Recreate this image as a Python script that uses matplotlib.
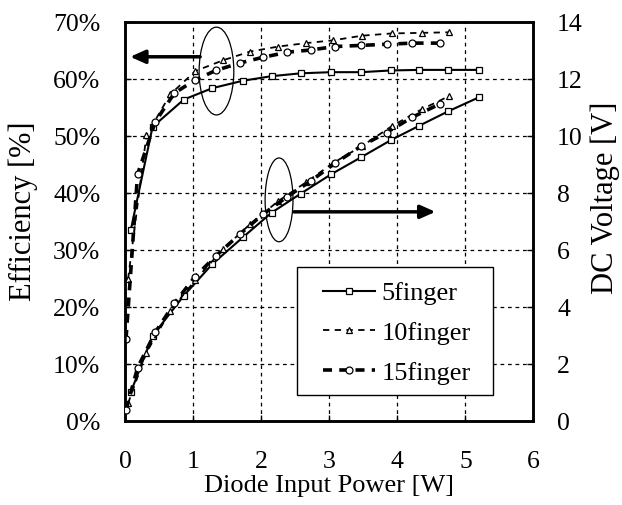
import matplotlib
matplotlib.use('Agg')
import matplotlib.pyplot as plt
from matplotlib.patches import Ellipse, Rectangle
from matplotlib.ticker import FuncFormatter

plt.rcParams['font.family'] = ['Liberation Serif', 'DejaVu Serif']

# Diode input power [W]
p5 = [0.08, 0.40, 0.86, 1.28, 1.73, 2.15, 2.58, 3.02, 3.47, 3.90, 4.32, 4.75, 5.20]
p10 = [0.04, 0.31, 0.66, 1.03, 1.44, 1.83, 2.25, 2.66, 3.06, 3.48, 3.92, 4.36, 4.76]
p15 = [0.01, 0.18, 0.44, 0.72, 1.02, 1.33, 1.68, 2.02, 2.38, 2.73, 3.08, 3.47, 3.84, 4.22, 4.62]

# Efficiency [%]
eff5 = [33.5, 51.6, 56.4, 58.4, 59.7, 60.5, 61.0, 61.2, 61.2, 61.5, 61.6, 61.6, 61.6]
eff10 = [24.9, 50.1, 57.3, 61.4, 63.3, 64.8, 65.7, 66.3, 66.8, 67.6, 68.0, 68.1, 68.2]
eff15 = [14.4, 43.3, 52.5, 57.5, 59.8, 61.5, 62.8, 63.8, 64.7, 65.1, 65.7, 65.9, 66.1, 66.3, 66.3]

# DC voltage [V]
v5 = [1.01, 2.99, 4.40, 5.51, 6.45, 7.31, 7.98, 8.65, 9.26, 9.85, 10.36, 10.87, 11.36]
v10 = [0.62, 2.40, 3.86, 4.95, 6.04, 6.90, 7.72, 8.38, 9.06, 9.65, 10.35, 10.94, 11.40]
v15 = [0.39, 1.87, 3.11, 4.13, 5.05, 5.79, 6.55, 7.25, 7.87, 8.43, 9.04, 9.65, 10.12, 10.66, 11.12]

labels = ['5finger', '10finger', '15finger']

fig = plt.figure(figsize=(6.22, 5.05), dpi=100)
ax1 = fig.add_axes([0.2015, 0.1663, 0.6561, 0.7901])
ax2 = ax1.twinx()

mk = dict(markerfacecolor='white', markeredgecolor='black', markersize=5, markeredgewidth=0.9)
st5 = dict(color='black', lw=1.5, ls='-', marker='s')
st10 = dict(color='black', lw=1.3, dashes=(3.5, 3), marker='^')
st15 = dict(color='black', lw=2.6, dashes=(2.5, 2), marker='o')

ax1.plot(p5, eff5, **st5, **mk, zorder=3)
ax1.plot(p10, eff10, **st10, **mk, zorder=3)
ax1.plot(p15, eff15, **st15, **mk, zorder=3)
l5, = ax2.plot(p5, v5, **st5, **mk, zorder=3)
l10, = ax2.plot(p10, v10, **st10, **mk, zorder=3)
l15, = ax2.plot(p15, v15, **st15, **mk, zorder=3)

ax1.set_xlim(0, 6)
ax1.set_ylim(0, 70)
ax2.set_ylim(0, 14)
ax1.set_xticks(range(0, 7))
ax1.set_yticks(range(0, 71, 10))
ax2.set_yticks(range(0, 15, 2))
ax1.yaxis.set_major_formatter(FuncFormatter(lambda v, p: '%d%%' % v))

ax1.grid(True, color='black', lw=0.9, dashes=(3, 3))
ax1.set_axisbelow(True)

for ax in (ax1, ax2):
    for s in ax.spines.values():
        s.set_linewidth(1.8)
ax1.tick_params(axis='both', direction='in', length=4, width=1, labelsize=18.5)
ax1.tick_params(axis='y', pad=18)
ax1.tick_params(axis='x', pad=21.5)
ax2.tick_params(axis='y', direction='in', length=4, width=1, labelsize=18.5, pad=17)

ax1.set_xlabel('Diode Input Power [W]', fontsize=19)
ax1.set_ylabel('Efficiency [%]', fontsize=22)
ax2.set_ylabel('DC Voltage [V]', fontsize=22)
ax1.xaxis.set_label_coords(0.5, -0.136)
ax1.yaxis.set_label_coords(-0.214, 0.526)
ax2.yaxis.set_label_coords(1.141, 0.559)

# annotations
ax1.add_patch(Ellipse((1.34, 61.4), 0.51, 15.4, fill=False, ec='black', lw=0.9, zorder=2))
ax1.add_patch(Ellipse((2.26, 38.8), 0.41, 14.7, fill=False, ec='black', lw=0.9, zorder=2))
arr = dict(arrowstyle='-|>,head_length=0.9,head_width=0.4', color='black', lw=2.5, shrinkA=0, shrinkB=0)
ax1.annotate('', xy=(0.07, 63.9), xytext=(1.10, 63.9), arrowprops=arr, zorder=4)
ax1.annotate('', xy=(4.56, 36.7), xytext=(2.48, 36.7), arrowprops=arr, zorder=4)

# legend box drawn separately, entries without frame
ax2.add_patch(Rectangle((0.421, 0.065), 0.48, 0.321, transform=ax2.transAxes,
                        facecolor='white', edgecolor='black', lw=1.0, zorder=5))
leg = ax2.legend([l5, l10, l15], labels, loc='center left', bbox_to_anchor=(0.485, 0.2206),
                 fontsize=19, frameon=False, handlelength=1.97, labelspacing=0.62,
                 handletextpad=0.25, borderpad=0, borderaxespad=0)
leg.set_zorder(6)

fig.savefig('out.png', dpi=100)
